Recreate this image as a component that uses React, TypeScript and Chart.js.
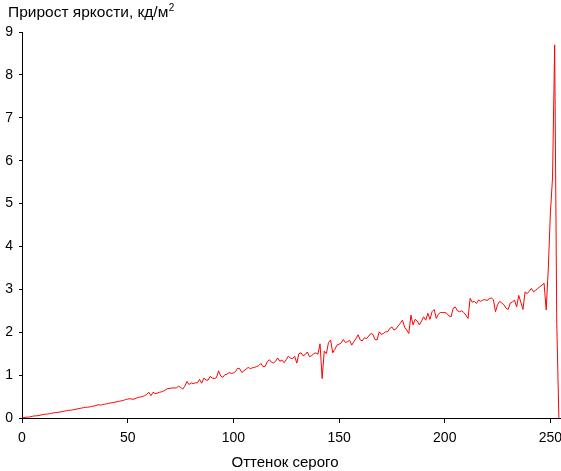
import React, { useEffect, useRef } from "react";
import { Chart, registerables } from "chart.js";

Chart.register(...registerables);

const chartTitle = "Прирост яркости, кд/м";
const chartTitleSup = "2";
const xAxisTitle = "Оттенок серого";

const xTicks = [0, 50, 100, 150, 200, 250];
const yTicks = [0, 1, 2, 3, 4, 5, 6, 7, 8, 9];

const brightnessGain = [
  0.00, 0.01, 0.02, 0.02, 0.03, 0.04, 0.05, 0.05, 0.06, 0.07,
  0.08, 0.09, 0.09, 0.10, 0.11, 0.12, 0.13, 0.13, 0.14, 0.15,
  0.16, 0.17, 0.18, 0.18, 0.19, 0.20, 0.21, 0.22, 0.23, 0.24,
  0.25, 0.25, 0.26, 0.27, 0.28, 0.29, 0.31, 0.30, 0.31, 0.32,
  0.33, 0.34, 0.35, 0.36, 0.37, 0.38, 0.39, 0.40, 0.41, 0.43,
  0.44, 0.45, 0.44, 0.44, 0.46, 0.48, 0.49, 0.50, 0.52, 0.55,
  0.60, 0.52, 0.60, 0.57, 0.58, 0.60, 0.61, 0.63, 0.66, 0.69,
  0.69, 0.70, 0.70, 0.70, 0.74, 0.72, 0.67, 0.74, 0.85, 0.78,
  0.82, 0.80, 0.82, 0.82, 0.90, 0.81, 0.93, 0.89, 0.88, 0.97,
  0.93, 0.92, 0.94, 1.10, 0.98, 0.95, 1.01, 1.02, 1.06, 1.04,
  1.05, 1.08, 1.16, 1.15, 1.06, 1.10, 1.14, 1.18, 1.15, 1.17,
  1.18, 1.20, 1.22, 1.27, 1.20, 1.20, 1.31, 1.36, 1.30, 1.28,
  1.33, 1.40, 1.32, 1.35, 1.29, 1.36, 1.44, 1.40, 1.38, 1.44,
  1.28, 1.50, 1.52, 1.45, 1.48, 1.54, 1.43, 1.45, 1.50, 1.52,
  1.49, 1.73, 0.92, 1.56, 1.50, 1.76, 1.82, 1.52, 1.60, 1.70,
  1.72, 1.75, 1.83, 1.76, 1.78, 1.81, 1.70, 1.78, 1.85, 1.94,
  1.82, 1.80, 1.87, 1.85, 1.91, 1.97, 1.95, 1.83, 1.82, 2.01,
  1.95, 1.97, 2.01, 2.01, 2.09, 2.12, 2.05, 2.08, 2.15, 2.21,
  2.28, 2.12, 2.05, 1.97, 2.40, 2.17, 2.30, 2.26, 2.17, 2.26,
  2.36, 2.28, 2.44, 2.30, 2.48, 2.53, 2.32, 2.42, 2.46, 2.46,
  2.46, 2.44, 2.38, 2.36, 2.56, 2.59, 2.50, 2.48, 2.50, 2.46,
  2.40, 2.32, 2.79, 2.70, 2.72, 2.67, 2.75, 2.72, 2.75, 2.76,
  2.74, 2.78, 2.80, 2.76, 2.48, 2.64, 2.72, 2.68, 2.64, 2.56,
  2.53, 2.68, 2.70, 2.75, 2.59, 2.86, 2.70, 2.53, 2.94, 2.90,
  2.96, 3.02, 2.94, 2.98, 3.02, 3.06, 3.10, 3.14, 2.52, 3.50,
  4.80, 5.60, 8.70, 2.20, 0.00,
];

const grayLevels = brightnessGain.map((_, i) => i);

const FONT = '"Liberation Sans", Arial, sans-serif';

export default function App() {
  const canvasRef = useRef<HTMLCanvasElement | null>(null);

  useEffect(() => {
    const canvas = canvasRef.current;
    if (!canvas) return;

    const textPlugin = {
      id: "textPlugin",
      afterDraw(chart: any) {
        const ctx = chart.ctx;
        ctx.save();
        ctx.fillStyle = "#000";
        ctx.textBaseline = "alphabetic";
        ctx.textAlign = "left";
        ctx.font = `15.5px ${FONT}`;
        ctx.fillText(chartTitle, 8, 17);
        const w = ctx.measureText(chartTitle).width;
        ctx.font = `10px ${FONT}`;
        ctx.fillText(chartTitleSup, 8 + w + 0.5, 11);
        ctx.font = `15px ${FONT}`;
        ctx.textAlign = "center";
        ctx.fillText(xAxisTitle, 285, 467);
        ctx.restore();
      },
    };

    const chart = new Chart(canvas, {
      type: "line",
      data: {
        datasets: [
          {
            data: grayLevels.map((g, i) => ({ x: g, y: brightnessGain[i] })),
            borderColor: "#ff0000",
            borderWidth: 1,
            pointRadius: 0,
            tension: 0,
            fill: false,
          },
        ],
      },
      options: {
        animation: false,
        responsive: true,
        maintainAspectRatio: false,
        layout: { padding: { top: 32, right: 0, left: 0, bottom: 0 } },
        plugins: {
          legend: { display: false },
          tooltip: { enabled: false },
          title: { display: false },
        },
        scales: {
          x: {
            type: "linear",
            min: 0,
            max: 255,
            afterBuildTicks: (scale: any) => {
              scale.ticks = xTicks.map((v) => ({ value: v }));
            },
            afterFit: (scale: any) => {
              scale.height = 53;
              scale.paddingLeft = 0;
              scale.paddingRight = 0;
            },
            ticks: {
              color: "#000",
              font: { family: FONT, size: 14 },
              padding: 7,
              maxRotation: 0,
              autoSkip: false,
            },
            grid: {
              display: true,
              drawOnChartArea: false,
              drawTicks: true,
              tickLength: 5,
              color: "#000",
            },
            border: { display: true, color: "#000", width: 1 },
          },
          y: {
            type: "linear",
            min: 0,
            max: 9,
            afterBuildTicks: (scale: any) => {
              scale.ticks = yTicks.map((v) => ({ value: v }));
            },
            afterFit: (scale: any) => {
              scale.width = 22;
              scale.paddingTop = 0;
              scale.paddingBottom = 0;
            },
            ticks: {
              color: "#000",
              font: { family: FONT, size: 14 },
              padding: 6,
              autoSkip: false,
            },
            grid: {
              display: true,
              drawOnChartArea: false,
              drawTicks: true,
              tickLength: 3,
              color: "#000",
            },
            border: { display: true, color: "#000", width: 1 },
          },
        },
      },
      plugins: [textPlugin],
    });

    return () => chart.destroy();
  }, []);

  return (
    <div style={{ position: "fixed", left: 0, top: 0, width: 561, height: 471, background: "#fff" }}>
      <canvas ref={canvasRef} />
    </div>
  );
}
